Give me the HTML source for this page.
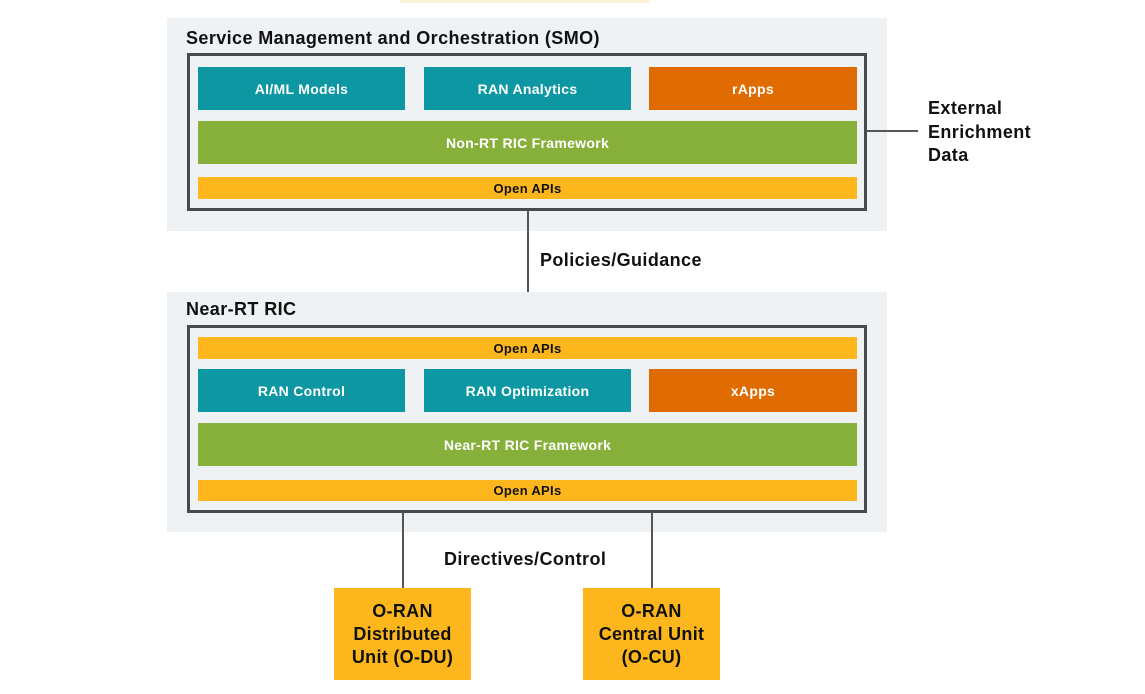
<!DOCTYPE html>
<html><head><style>
body{margin:0;width:1145px;height:694px;background:#fff;position:relative;font-family:"Liberation Sans",sans-serif;overflow:hidden}
div{position:absolute;box-sizing:border-box}
.bg{background:#eef2f5;left:167px;width:720px}
.frame{border:3px solid #4a4a4a;left:187px;width:680px}
.b{display:flex;align-items:center;justify-content:center;color:#fff;font-size:14px;font-weight:bold;letter-spacing:0.3px}
.t{background:#0c97a2}.o{background:#e06b00}.g{background:#86b03a}.y{background:#fdb71c;color:#111;font-size:13px}
.lbl{font-weight:bold;color:#111;font-size:18px;letter-spacing:0.4px}
.v{background:#555;width:2px}
.u{background:#fdb71c;display:flex;align-items:center;justify-content:center;text-align:center;font-weight:bold;font-size:18px;line-height:23px;color:#111;letter-spacing:0.3px}
</style></head><body>
<div style="left:400px;top:0;width:250px;height:3px;background:#fdf3d8"></div>
<div class="bg" style="top:18px;height:213px"></div>
<div class="lbl" style="left:186px;top:28px">Service Management and Orchestration (SMO)</div>
<div class="frame" style="top:53px;height:158px"></div>
<div class="b t" style="left:198px;top:67px;width:207px;height:43px">AI/ML Models</div>
<div class="b t" style="left:424px;top:67px;width:207px;height:43px">RAN Analytics</div>
<div class="b o" style="left:649px;top:67px;width:208px;height:43px">rApps</div>
<div class="b g" style="left:198px;top:121px;width:659px;height:43px">Non-RT RIC Framework</div>
<div class="b y" style="left:198px;top:177px;width:659px;height:22px">Open APIs</div>
<div style="left:866px;top:130px;width:52px;height:2px;background:#555"></div>
<div class="lbl" style="left:928px;top:97px;line-height:23.5px">External<br>Enrichment<br>Data</div>
<div class="v" style="left:527px;top:210px;height:116px"></div>
<div class="lbl" style="left:540px;top:250px">Policies/Guidance</div>
<div class="bg" style="top:292px;height:240px"></div>
<div class="lbl" style="left:186px;top:299px">Near-RT RIC</div>
<div class="frame" style="top:325px;height:188px"></div>
<div class="b y" style="left:198px;top:337px;width:659px;height:22px">Open APIs</div>
<div class="b t" style="left:198px;top:369px;width:207px;height:43px">RAN Control</div>
<div class="b t" style="left:424px;top:369px;width:207px;height:43px">RAN Optimization</div>
<div class="b o" style="left:649px;top:369px;width:208px;height:43px">xApps</div>
<div class="b g" style="left:198px;top:423px;width:659px;height:43px">Near-RT RIC Framework</div>
<div class="b y" style="left:198px;top:480px;width:659px;height:21px">Open APIs</div>
<div class="v" style="left:402px;top:512px;height:76px"></div>
<div class="v" style="left:651px;top:512px;height:76px"></div>
<div class="lbl" style="left:444px;top:549px">Directives/Control</div>
<div class="u" style="left:334px;top:588px;width:137px;height:92px">O-RAN<br>Distributed<br>Unit (O-DU)</div>
<div class="u" style="left:583px;top:588px;width:137px;height:92px">O-RAN<br>Central Unit<br>(O-CU)</div>
</body></html>
